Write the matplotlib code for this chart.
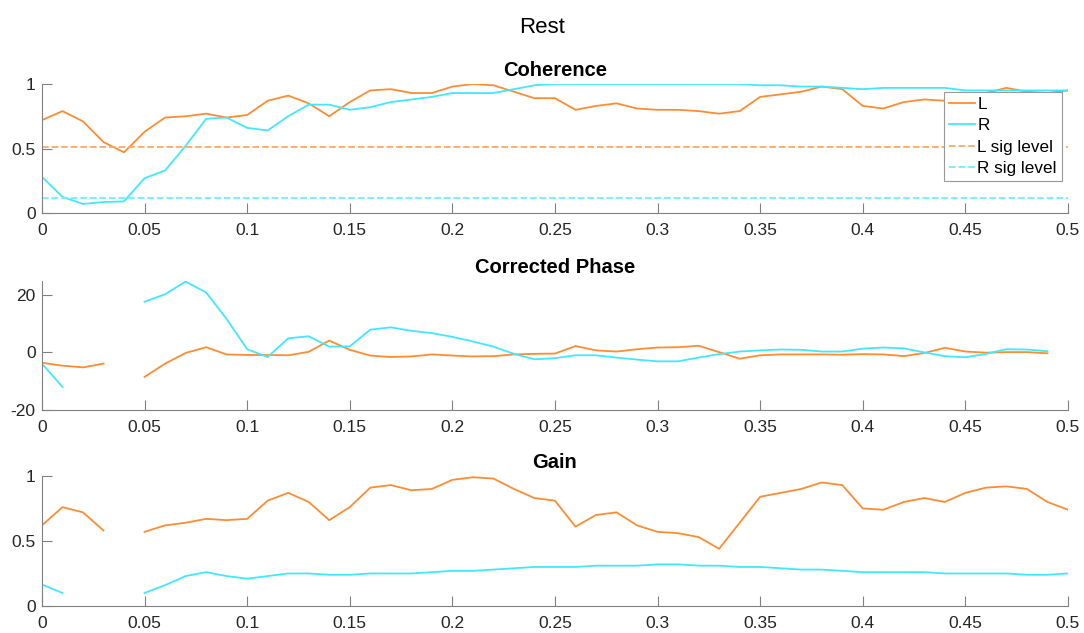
import matplotlib
matplotlib.use("Agg")
import matplotlib.pyplot as plt
import numpy as np

plt.rcParams['font.family'] = ['Liberation Sans', 'DejaVu Sans']

freq = np.round(np.arange(0, 0.501, 0.01), 2)
nan = np.nan

coh_L = [0.72, 0.79, 0.71, 0.55, 0.47, 0.63, 0.74, 0.75, 0.77, 0.74,
         0.76, 0.87, 0.91, 0.85, 0.75, 0.86, 0.95, 0.96, 0.93, 0.93,
         0.98, 1.00, 0.99, 0.94, 0.89, 0.89, 0.80, 0.83, 0.85, 0.81,
         0.80, 0.80, 0.79, 0.77, 0.79, 0.90, 0.92, 0.94, 0.98, 0.96,
         0.83, 0.81, 0.86, 0.88, 0.87, 0.91, 0.93, 0.97, 0.94, 0.93,
         0.95]
coh_R = [0.28, 0.125, 0.07, 0.085, 0.09, 0.27, 0.33, 0.52, 0.73, 0.74,
         0.66, 0.64, 0.75, 0.84, 0.84, 0.80, 0.82, 0.86, 0.88, 0.90,
         0.93, 0.93, 0.93, 0.96, 0.99, 1.00, 1.00, 1.00, 1.00, 1.00,
         1.00, 1.00, 1.00, 1.00, 1.00, 0.99, 0.99, 0.98, 0.98, 0.97,
         0.96, 0.97, 0.97, 0.97, 0.97, 0.95, 0.95, 0.95, 0.95, 0.95,
         0.95]
sig_L = 0.51
sig_R = 0.12

phase_L = [-3.6, -4.6, -5.2, -3.9, nan, -8.5, -3.9, -0.2, 1.8, -0.7,
           -0.9, -0.9, -1.0, 0.2, 4.1, 0.9, -1.1, -1.6, -1.4, -0.7,
           -1.1, -1.4, -1.3, -0.7, -0.5, -0.4, 2.2, 0.7, 0.3, 1.1,
           1.7, 1.8, 2.3, 0.1, -2.2, -1.0, -0.7, -0.7, -0.7, -0.8,
           -0.6, -0.7, -1.3, -0.2, 1.6, 0.3, -0.1, 0.1, 0.1, -0.3,
           nan]
phase_R = [-3.9, -12.0, nan, nan, nan, 17.6, 20.2, 24.6, 20.8, 11.6,
           1.1, -1.6, 4.9, 5.6, 2.0, 2.1, 7.9, 8.7, 7.5, 6.7,
           5.4, 3.8, 2.0, -0.5, -2.4, -2.0, -1.0, -1.0, -1.8, -2.5,
           -3.1, -3.1, -1.8, -0.6, 0.3, 0.7, 1.0, 0.9, 0.3, 0.3,
           1.3, 1.7, 1.4, 0.0, -1.3, -1.7, -0.5, 1.1, 1.0, 0.4,
           nan]

gain_L = [0.62, 0.76, 0.72, 0.58, nan, 0.57, 0.62, 0.64, 0.67, 0.66,
          0.67, 0.81, 0.87, 0.80, 0.66, 0.76, 0.91, 0.93, 0.89, 0.90,
          0.97, 0.99, 0.98, 0.90, 0.83, 0.81, 0.61, 0.70, 0.72, 0.62,
          0.57, 0.56, 0.53, 0.44, 0.64, 0.84, 0.87, 0.90, 0.95, 0.93,
          0.75, 0.74, 0.80, 0.83, 0.80, 0.87, 0.91, 0.92, 0.90, 0.80,
          0.74]
gain_R = [0.165, 0.10, nan, nan, nan, 0.10, 0.16, 0.23, 0.26, 0.23,
          0.21, 0.23, 0.25, 0.25, 0.24, 0.24, 0.25, 0.25, 0.25, 0.26,
          0.27, 0.27, 0.28, 0.29, 0.30, 0.30, 0.30, 0.31, 0.31, 0.31,
          0.32, 0.32, 0.31, 0.31, 0.30, 0.30, 0.29, 0.28, 0.28, 0.27,
          0.26, 0.26, 0.26, 0.26, 0.25, 0.25, 0.25, 0.25, 0.24, 0.24,
          0.25]

col_L = '#FF8C33'
col_R = '#40E8FF'
col_Ls = '#FFA866'
col_Rs = '#70EEFF'
gray = '#808080'

fig = plt.figure(figsize=(10.84, 6.33), dpi=100)
boxes = [[0.0387, 0.6635, 0.9465, 0.2038],
         [0.0387, 0.3523, 0.9465, 0.2038],
         [0.0387, 0.0427, 0.9465, 0.2054]]
axs = [fig.add_axes(b) for b in boxes]

def style(ax, title, ylim, yticks):
    ax.set_title(title, fontsize=14.5, fontweight='bold', pad=6)
    ax.set_xlim(0, 0.5)
    ax.set_ylim(*ylim)
    ax.set_xticks(np.arange(0, 0.501, 0.05))
    ax.set_xticklabels(['0', '0.05', '0.1', '0.15', '0.2', '0.25', '0.3',
                        '0.35', '0.4', '0.45', '0.5'])
    ax.set_yticks(yticks)
    ax.set_yticklabels([('%g' % t) for t in yticks])
    for s in ['top', 'right']:
        ax.spines[s].set_visible(False)
    for s in ['left', 'bottom']:
        ax.spines[s].set_color(gray)
        ax.spines[s].set_linewidth(0.8)
    ax.tick_params(direction='in', length=7, width=0.8, color=gray,
                   labelsize=12.5, labelcolor='#262626')
    ax.tick_params(axis='x', pad=7.5)
    ax.tick_params(axis='y', pad=4.5)

ax = axs[0]
ax.plot(freq, coh_L, color=col_L, lw=1.3, label='L')
ax.plot(freq, coh_R, color=col_R, lw=1.3, label='R')
ax.plot(freq, np.full(len(freq), sig_L), '--', color=col_Ls, lw=1.3, label='L sig level')
ax.plot(freq, np.full(len(freq), sig_R), '--', color=col_Rs, lw=1.3, label='R sig level')
style(ax, 'Coherence', (0, 1), [0, 0.5, 1])
leg = ax.legend(loc='upper right', bbox_to_anchor=(0.994, 0.94), fontsize=12.3,
                frameon=True, fancybox=False, framealpha=1, borderpad=0.3,
                labelspacing=0.38, handlelength=1.5, handletextpad=0.15,
                borderaxespad=0)
leg.get_frame().set_edgecolor('#999999')
leg.get_frame().set_linewidth(0.8)

ax = axs[1]
ax.plot(freq, phase_L, color=col_L, lw=1.3)
ax.plot(freq, phase_R, color=col_R, lw=1.3)
style(ax, 'Corrected Phase', (-20, 24.8), [-20, 0, 20])

ax = axs[2]
ax.plot(freq, gain_L, color=col_L, lw=1.3)
ax.plot(freq, gain_R, color=col_R, lw=1.3)
style(ax, 'Gain', (0, 1), [0, 0.5, 1])

fig.text(0.5, 1 - 33.0 / 633, 'Rest', ha='center', va='baseline', fontsize=16)

fig.savefig('out.png', dpi=100)
